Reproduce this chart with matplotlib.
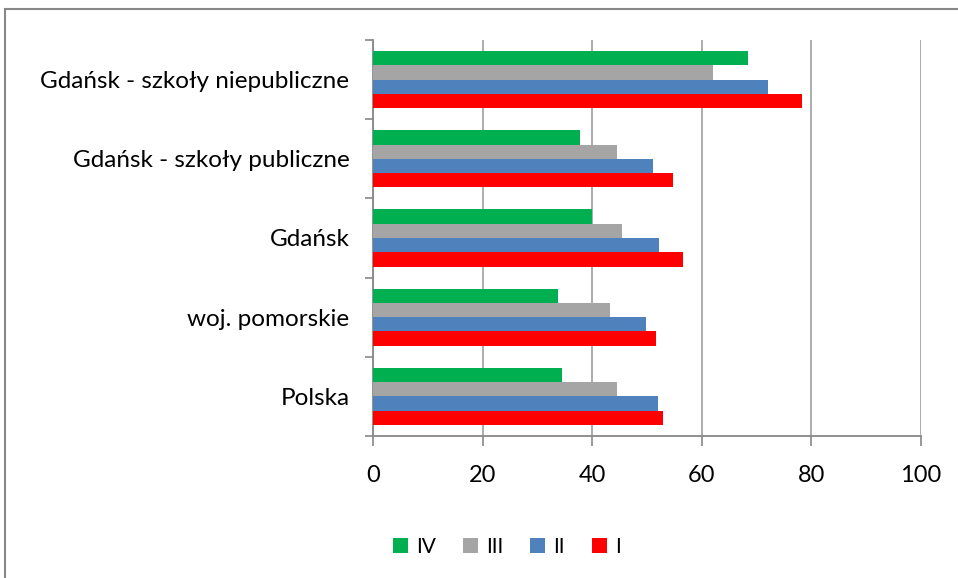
import numpy as np
import matplotlib.pyplot as plt
from matplotlib.patches import Rectangle

plt.rcParams['font.family'] = ['Lato', 'DejaVu Sans']

categories = ["Polska", "woj. pomorskie", "Gdańsk", "Gdańsk - szkoły publiczne", "Gdańsk - szkoły niepubliczne"]
series_names = ["I", "II", "III", "IV"]
val_I = [53.0, 51.6, 56.5, 54.8, 78.2]
val_II = [52.0, 49.9, 52.2, 51.1, 72.1]
val_III = [44.5, 43.2, 45.5, 44.5, 62.0]
val_IV = [34.5, 33.8, 40.0, 37.8, 68.5]
colors = ["#FF0000", "#4F81BD", "#A5A5A5", "#00B050"]

fig = plt.figure(figsize=(9.58, 5.78), dpi=100)
ax = fig.add_axes([373/958, 1-436/578, (921-373)/958, (436-40)/578])

fig.patches.append(Rectangle((5/958, -0.01), 1.0, 1-9/578 + 0.01, transform=fig.transFigure,
                             fill=False, edgecolor="#888888", linewidth=1.5))

y = np.arange(len(categories))
h = 0.18
vals = [val_I, val_II, val_III, val_IV]
bars = []
for i, v in enumerate(vals):
    b = ax.barh(y - 1.5*h + i*h, v, height=h, color=colors[i], label=series_names[i], zorder=3)
    bars.append(b)

ax.set_xlim(0, 100)
ax.set_ylim(-0.5, len(categories) - 0.5)
ax.set_xticks(range(0, 101, 20))
ax.xaxis.grid(True, color="#A6A6A6", linewidth=1.3, zorder=0)
ax.set_yticks(y)
ax.set_yticklabels(categories, fontsize=17.5)
ax.set_yticks(np.arange(-0.5, len(categories), 1.0), minor=True)
ax.tick_params(axis='y', which='major', length=0, pad=17)
ax.tick_params(axis='y', which='minor', length=6, color="#888888", width=1.2)
ax.tick_params(axis='x', length=7, color="#888888", width=1.2, labelsize=17, pad=14)

for s in ['top', 'right']:
    ax.spines[s].set_visible(False)
for s in ['left', 'bottom']:
    ax.spines[s].set_color("#888888")
    ax.spines[s].set_linewidth(1.3)

handles = bars[::-1]
labels = series_names[::-1]
fig.legend(handles, labels, loc='center', bbox_to_anchor=(507/958, 1-547/578), ncol=4,
           frameon=False, fontsize=15, handlelength=0.7, handleheight=0.7,
           handletextpad=0.4, columnspacing=1.3)

fig.savefig("out.png", dpi=100)
